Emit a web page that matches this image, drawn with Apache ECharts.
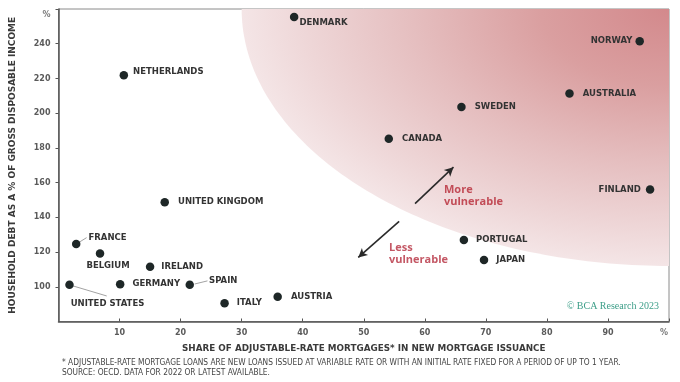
<!DOCTYPE html>
<html>
<head>
<meta charset="utf-8">
<script src="https://cdn.jsdelivr.net/npm/echarts@6/dist/echarts.min.js"></script>
<style>html,body{margin:0;padding:0;background:#fff;}#c{width:680px;height:382px;}</style>
</head>
<body>
<div id="c"></div>
<script>
// ---- data ----
const countries = ['NETHERLANDS','DENMARK','NORWAY','AUSTRALIA','SWEDEN','CANADA','FINLAND','PORTUGAL','JAPAN','AUSTRIA','ITALY','SPAIN','GERMANY','IRELAND','UNITED KINGDOM','FRANCE','BELGIUM','UNITED STATES'];
const armShare  = [10.7, 38.6, 95.2, 83.7, 66.0, 54.1, 96.9, 66.4, 69.7, 35.9, 27.2, 21.5, 10.1, 15.0, 17.4, 2.9, 6.8, 1.8];
const debtRatio = [221.9, 255.4, 241.4, 211.3, 203.6, 185.3, 156.0, 126.9, 115.4, 94.3, 90.5, 101.1, 101.5, 111.5, 148.7, 124.6, 119.2, 101.1];
const xTicks = [10,20,30,40,50,60,70,80,90,'%'];
const yTicks = [100,120,140,160,180,200,220,240,'%'];

// ---- styling (label placement) ----
const labelPlace = {
  'NETHERLANDS':   {position:'right', distance:5, offset:[0,-3]},
  'DENMARK':       {position:'right', distance:1, offset:[0,6]},
  'NORWAY':        {position:'left',  distance:3},
  'AUSTRALIA':     {position:'right', distance:9},
  'SWEDEN':        {position:'right', distance:9},
  'CANADA':        {position:'right', distance:9},
  'FINLAND':       {position:'left',  distance:5},
  'PORTUGAL':      {position:'right', distance:8},
  'JAPAN':         {position:'right', distance:8},
  'AUSTRIA':       {position:'right', distance:9},
  'ITALY':         {position:'right', distance:8},
  'SPAIN':         {position:'right', distance:15, offset:[0,-4]},
  'GERMANY':       {position:'right', distance:8},
  'IRELAND':       {position:'right', distance:7},
  'UNITED KINGDOM':{position:'right', distance:9},
  'FRANCE':        {position:'right', distance:8, offset:[0,-6]},
  'BELGIUM':       {position:'bottom',distance:4, offset:[8,0]},
  'UNITED STATES': {position:'bottom',distance:10, offset:[38,0]}
};
const zone = {cx:100, cy:260, rx:70, ry:148};
const arrows = [
  [[58.4,147.9],[64.7,168.9]],
  [[55.8,137.7],[49.1,116.9]]
];
const leaders = [
  [[2.9,124.6],[4.6,128.3]],
  [[22.3,101.6],[24.4,103.4]],
  [[1.8,101.1],[7.9,94.7]]
];

const chart = echarts.init(document.getElementById('c'), null, {renderer:'canvas'});
const points = countries.map((n,i)=>({
  name:n, value:[armShare[i], debtRatio[i]],
  label:Object.assign({show:true, formatter:n}, labelPlace[n])
}));

const ml = [];
arrows.forEach(a=>ml.push([{coord:a[0], symbol:'none'},{coord:a[1], symbol:'arrow', symbolSize:[7,9]}]));
leaders.forEach(a=>ml.push([{coord:a[0], symbol:'none', lineStyle:{color:'#8a8a8a', width:0.8}},{coord:a[1], symbol:'none'}]));

const tickFont = {color:'#5a5a5a', fontFamily:'DejaVu Sans', fontWeight:'bold', fontSize:8};

chart.setOption({
  animation:false,
  grid:{left:58.5, top:9, right:11, bottom:60.5, show:true, borderColor:'#8a8a8a', borderWidth:1, backgroundColor:'transparent'},
  xAxis:{
    type:'value', min:0, max:100, interval:10,
    name:'SHARE OF ADJUSTABLE-RATE MORTGAGES* IN NEW MORTGAGE ISSUANCE',
    nameLocation:'middle', nameGap:23,
    nameTextStyle:{color:'#3a3a3a', fontFamily:'DejaVu Sans', fontWeight:'bold', fontSize:8.8},
    splitLine:{show:false},
    axisLine:{lineStyle:{color:'#555', width:1.5}},
    axisTick:{inside:true, length:3, lineStyle:{color:'#555'}},
    axisLabel:Object.assign({margin:7, showMinLabel:false,
      formatter:v=>{const i=Math.round(v/10)-1; const t=xTicks[i]; return t==='%'?'{p|%}':String(t);},
      rich:{p:{color:'#777', fontSize:8, padding:[0,10,0,0]}}}, tickFont)
  },
  yAxis:{
    type:'value', min:80, max:260, interval:20,
    name:'HOUSEHOLD DEBT AS A % OF GROSS DISPOSABLE INCOME',
    nameLocation:'middle', nameGap:41, nameRotate:90,
    nameTextStyle:{color:'#3a3a3a', fontFamily:'DejaVu Sans', fontWeight:'bold', fontSize:9},
    splitLine:{show:false},
    axisLine:{show:true, lineStyle:{color:'#555', width:1.5}},
    axisTick:{show:true, length:3, lineStyle:{color:'#555'}},
    axisLabel:Object.assign({margin:8, showMinLabel:false,
      formatter:v=>{const i=Math.round((v-100)/20); const t=yTicks[i]; if(t===undefined) return ''; return t==='%'?'{p|%}':String(t);},
      rich:{p:{color:'#777', fontSize:8, padding:[12,0,0,0]}}}, tickFont)
  },
  series:[
    {
      type:'custom', silent:true, z:0, data:[[zone.cx, zone.cy]],
      renderItem:function(params, api){
        const corner = api.coord([zone.cx, zone.cy]);
        const leftPt = api.coord([zone.cx - zone.rx, zone.cy]);
        const botPt = api.coord([zone.cx, zone.cy - zone.ry]);
        const rxPx = corner[0] - leftPt[0];
        const r = botPt[1] - corner[1];
        const pts=[]; const N=90;
        for(let i=0;i<=N;i++){
          const t=i/N*Math.PI/2;
          pts.push([-r*Math.cos(t), r*Math.sin(t)]);
        }
        pts.push([0,0]);
        return {type:'polygon', x:corner[0], y:corner[1], scaleX:rxPx/r, scaleY:1,
          shape:{points:pts}, style:{
          fill:new echarts.graphic.RadialGradient(0, 0, r, [
            {offset:0, color:'#d3898c'},
            {offset:0.3, color:'#da9fa0'},
            {offset:0.6, color:'#e5bebf'},
            {offset:0.85, color:'#eed6d7'},
            {offset:1, color:'#f4e5e6'}
          ], true)}};
      }
    },
    {
      type:'scatter', z:5, symbolSize:8.5,
      itemStyle:{color:'#1e2727', opacity:1},
      label:{color:'#333', fontFamily:'DejaVu Sans', fontWeight:'bold', fontSize:8.5},
      data:points,
      markLine:{
        silent:true, animation:false,
        label:{show:false},
        lineStyle:{color:'#2a2a2a', width:1.6, type:'solid'},
        data:ml
      }
    }
  ],
  graphic:[
    {type:'text', z:100, left:444, top:184, style:{text:'More\nvulnerable', fill:'#c24c57', font:'bold 11px "Open Sans"', lineHeight:12}},
    {type:'text', z:100, left:389, top:242, style:{text:'Less\nvulnerable', fill:'#c45865', font:'bold 11px "Open Sans"', lineHeight:12}},
    {type:'text', z:100, right:21, top:301, style:{text:'© BCA Research 2023', fill:'#3c9e88', font:'10px "Liberation Serif"'}},
    {type:'text', z:100, left:62, top:359, style:{text:'* ADJUSTABLE-RATE MORTGAGE LOANS ARE NEW LOANS ISSUED AT VARIABLE RATE OR WITH AN INITIAL RATE FIXED FOR A PERIOD OF UP TO 1 YEAR.', fill:'#444', font:'8.3px "DejaVu Sans Condensed"'}},
    {type:'text', z:100, left:62, top:368.5, style:{text:'SOURCE: OECD. DATA FOR 2022 OR LATEST AVAILABLE.', fill:'#444', font:'8.3px "DejaVu Sans Condensed"'}}
  ]
});
</script>
</body>
</html>
